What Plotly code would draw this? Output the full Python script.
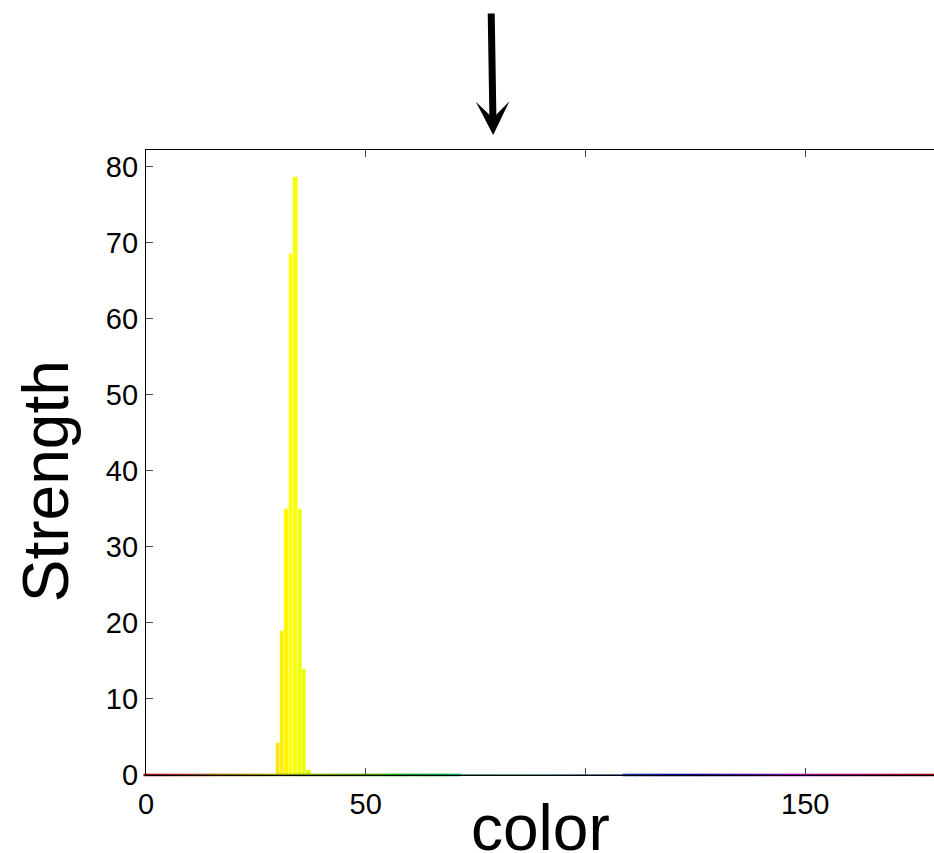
import colorsys
import plotly.graph_objects as go

# ---- data ----
bar_hues = [30, 31, 32, 33, 34, 35, 36, 37]
bar_strength = [4.2, 19, 35, 68.5, 78.7, 35, 14, 0.7]
all_hues = list(range(0, 180))
gap_lo, gap_hi = 72, 108          # hue band drawn as thin dark dotted line
x_tickvals = [0, 50, 100, 150]
x_ticktext = ["0", "50", "", "150"]
y_tickvals = [0, 10, 20, 30, 40, 50, 60, 70, 80]
arrow_hue = 79


def hue_rgb(deg, v=1.0, s=1.0):
    r, g, b = colorsys.hsv_to_rgb((deg % 360) / 360.0, s, v)
    return "rgb(%d,%d,%d)" % (round(r * 255), round(g * 255), round(b * 255))


bar_colors = [hue_rgb(2 * h - 6) for h in bar_hues]

base_h = [h for h in all_hues if h < gap_lo or h > gap_hi]
base_c = [hue_rgb(2 * h, v=0.6) for h in base_h]
mid_h = [h for h in all_hues if gap_lo <= h <= gap_hi]
mid_c = [hue_rgb(2 * h, v=0.35) for h in mid_h]

fig = go.Figure()
fig.add_trace(go.Bar(
    x=bar_hues, y=bar_strength, width=1.0,
    marker=dict(color=bar_colors, line=dict(color="rgba(255,255,210,0.8)", width=0.5)),
    showlegend=False, hoverinfo="x+y",
))
fig.add_trace(go.Scatter(
    x=base_h, y=[0] * len(base_h), mode="markers",
    marker=dict(symbol="line-ew", size=3.6, line=dict(color=base_c, width=2.5)),
    showlegend=False, cliponaxis=False,
))
fig.add_trace(go.Scatter(
    x=mid_h, y=[0] * len(mid_h), mode="markers",
    marker=dict(symbol="line-ew", size=3.6, line=dict(color=mid_c, width=1.2)),
    showlegend=False, cliponaxis=False,
))

font_family = "Liberation Sans, Arial, Helvetica, sans-serif"

fig.update_layout(
    width=934, height=853,
    margin=dict(l=146, r=0, t=150, b=78),
    paper_bgcolor="white", plot_bgcolor="white",
    font=dict(family=font_family, color="black", size=29),
    bargap=0,
    xaxis=dict(
        range=[0, 179.3], tickvals=x_tickvals, ticktext=x_ticktext,
        ticks="inside", ticklen=7, tickwidth=1, tickcolor="#444",
        showline=True, linecolor="black", linewidth=1.2, mirror="ticks",
        showgrid=False, zeroline=False, ticklabelstandoff=3,
        tickfont=dict(size=29),
    ),
    yaxis=dict(
        range=[0, 82.2], tickvals=y_tickvals,
        ticks="inside", ticklen=7, tickwidth=1, tickcolor="#444",
        showline=True, linecolor="black", linewidth=1.2, mirror=False,
        showgrid=False, zeroline=False, ticklabelstandoff=1,
        tickfont=dict(size=29),
    ),
    annotations=[
        dict(text="color", xref="paper", yref="paper", x=0.5, y=-0.085,
             xanchor="center", yanchor="middle", showarrow=False,
             font=dict(size=64, family=font_family)),
        dict(text="Strength", xref="paper", yref="paper", x=-0.127, y=0.47,
             xanchor="center", yanchor="middle", showarrow=False, textangle=-90,
             font=dict(size=64, family=font_family)),
        dict(text="", x=arrow_hue, xref="x", y=1.024, yref="paper",
             showarrow=True, ax=-2, ay=-123, axref="pixel", ayref="pixel",
             arrowhead=3, arrowwidth=7, arrowsize=0.8, arrowcolor="black",
             standoff=0),
    ],
)

fig.write_html("out.html")
